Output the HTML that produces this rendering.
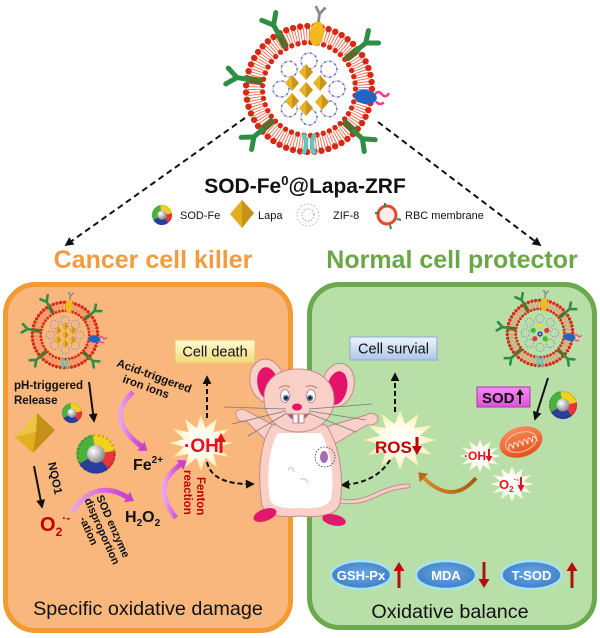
<!DOCTYPE html>
<html><head><meta charset="utf-8">
<style>
html,body{margin:0;padding:0;background:#fff;}
svg{display:block;}
text{font-family:"Liberation Sans",Arial,sans-serif;}
</style></head><body>
<svg width="600" height="638" viewBox="0 0 600 638" xmlns="http://www.w3.org/2000/svg">
<defs>
 <marker id="ah" viewBox="0 0 10 10" refX="8" refY="5" markerWidth="9" markerHeight="9" markerUnits="userSpaceOnUse" orient="auto"><path d="M0,0 L10,5 L0,10 z" fill="#111"/></marker>
 <radialGradient id="starG" cx="50%" cy="50%" r="50%"><stop offset="0" stop-color="#fff"/><stop offset="0.55" stop-color="#FFFBE6"/><stop offset="1" stop-color="#FBEA9E"/></radialGradient>
 <radialGradient id="starW" cx="50%" cy="50%" r="50%"><stop offset="0" stop-color="#fff"/><stop offset="0.6" stop-color="#FFFDF2"/><stop offset="1" stop-color="#EEF0D4"/></radialGradient>
 <linearGradient id="deathG" x1="0" y1="0" x2="0" y2="1"><stop offset="0" stop-color="#FFFBD2"/><stop offset="1" stop-color="#F1DA7C"/></linearGradient>
 <linearGradient id="survG" x1="0" y1="0" x2="0" y2="1"><stop offset="0" stop-color="#EEF4FC"/><stop offset="1" stop-color="#AFC6E8"/></linearGradient>
 <linearGradient id="sodG" x1="0" y1="0" x2="0" y2="1"><stop offset="0" stop-color="#F48AF2"/><stop offset="1" stop-color="#DC52DA"/></linearGradient>
 <linearGradient id="magG" x1="0" y1="0" x2="1" y2="0"><stop offset="0" stop-color="#E9A6EC"/><stop offset="1" stop-color="#CC3ECC"/></linearGradient>
 <linearGradient id="brG" x1="1" y1="0" x2="0" y2="0"><stop offset="0" stop-color="#A85A14"/><stop offset="1" stop-color="#D98A2A"/></linearGradient>
 <radialGradient id="badgeG" cx="50%" cy="45%" r="55%"><stop offset="0" stop-color="#6BA8E4"/><stop offset="1" stop-color="#3F7EC4"/></radialGradient>
 <radialGradient id="greyG" cx="35%" cy="35%" r="65%"><stop offset="0" stop-color="#fff"/><stop offset="1" stop-color="#8E8E8E"/></radialGradient>
 <linearGradient id="mitoG" x1="0" y1="0" x2="0" y2="1"><stop offset="0" stop-color="#FA8A58"/><stop offset="1" stop-color="#E2511F"/></linearGradient>

 <polygon id="star" points="100,0 53,14 87,50 39,39 50,87 14,53 0,100 -14,53 -50,87 -39,39 -87,50 -53,14 -100,0 -53,-14 -87,-50 -39,-39 -50,-87 -14,-53 0,-100 14,-53 50,-87 39,-39 87,-50 53,-14"/>

 <g id="sod">
  <path d="M0,0 L-1.74,-9.85 A10,10 0 0 1 9.85,-1.74 Z" fill="#F2D21C"/>
  <path d="M0,0 L9.85,-1.74 A10,10 0 0 1 6.43,7.66 Z" fill="#E8343A"/>
  <path d="M0,0 L6.43,7.66 A10,10 0 0 1 -8.66,5 Z" fill="#2A3E9E"/>
  <path d="M0,0 L-8.66,5 A10,10 0 0 1 -1.74,-9.85 Z" fill="#4CB23E"/>
  <circle r="9.6" fill="none" stroke="#000" stroke-opacity="0.18" stroke-width="1.4" stroke-dasharray="1 1.3"/>
  <circle r="4.6" fill="url(#greyG)"/>
 </g>

 <g id="dia"><polygon points="0,-8 7,0 0,8 -7,0" fill="#E6B424"/><polygon points="0,-8 7,0 0,8" fill="#C9961A"/></g>

 <g id="zifc">
  <circle cx="28" cy="0" r="8"/><circle cx="19.8" cy="19.8" r="8"/><circle cx="0" cy="28" r="8"/><circle cx="-19.8" cy="19.8" r="8"/>
  <circle cx="-28" cy="0" r="8"/><circle cx="-19.8" cy="-19.8" r="8"/><circle cx="0" cy="-28" r="8"/><circle cx="19.8" cy="-19.8" r="8"/>
 </g>

 <g id="ab"><rect x="47" y="-3.5" width="17" height="7" rx="2.5" fill="#5C6A2A"/><path d="M62,0 L73,0 M73,0 L83,-8 M73,0 L83,8" fill="none" stroke="#2E8F44" stroke-width="5" stroke-linecap="round" stroke-linejoin="round"/></g>

 <g id="ring">
  <circle r="54.5" fill="none" stroke="#F06A4E" stroke-width="13" stroke-dasharray="0.9 1.8"/>
  <circle r="63" fill="none" stroke="#D62A16" stroke-width="6.4" stroke-linecap="round" stroke-dasharray="0 7.197"/>
  <circle r="46.5" fill="none" stroke="#D62A16" stroke-width="5.4" stroke-linecap="round" stroke-dasharray="0 6.49"/>
  <use href="#zifc" fill="none" stroke="#D6A2C6" stroke-width="0.9"/>
  <use href="#zifc" fill="none" stroke="#3B78C6" stroke-width="1.9" stroke-linecap="round" stroke-dasharray="0 5.6"/>
  <use href="#ab" transform="rotate(-119)"/>
  <use href="#ab" transform="rotate(-171)"/>
  <use href="#ab" transform="rotate(139)"/>
  <use href="#ab" transform="rotate(-39)"/>
  <use href="#ab" transform="rotate(43)"/>
  <g transform="rotate(-82)"><ellipse cx="56" cy="0" rx="12.5" ry="7" fill="#F2BA1E"/><path d="M68,0 L76,0 M76,0 L83,-5 M76,0 L83,5" stroke="#8A8A8A" stroke-width="2.8" fill="none"/></g>
  <g transform="rotate(8)"><ellipse cx="57" cy="0" rx="11.5" ry="7" fill="#2264C4"/><path d="M66,-4 q3,-5 7,-1 q4,4 7,-2 M68,3 q4,4 8,0" stroke="#F03A96" stroke-width="2.5" fill="none"/></g>
  <g transform="rotate(90)"><path d="M45,-6 Q54,0 65,-6 M45,6 Q54,0 65,6" stroke="#5CC8C0" stroke-width="4.2" fill="none"/></g>
 </g>
</defs>

<!-- top dashed lines -->
<path d="M245,118 L66,245" stroke="#111" stroke-width="2" stroke-dasharray="6 4" fill="none" marker-end="url(#ah)"/>
<path d="M378,122 L540,245" stroke="#111" stroke-width="2" stroke-dasharray="6 4" fill="none" marker-end="url(#ah)"/>

<!-- top nanoparticle -->
<g transform="translate(309,89)">
 <use href="#ring"/>
 <use href="#dia" x="-3" y="-17"/><use href="#dia" x="-17" y="-6"/><use href="#dia" x="11" y="-6"/>
 <use href="#dia" x="-3" y="1"/><use href="#dia" x="-17" y="12"/><use href="#dia" x="13" y="13"/><use href="#dia" x="-3" y="19"/>
</g>

<text x="305" y="193" font-size="21" font-weight="bold" text-anchor="middle" fill="#111">SOD-Fe<tspan font-size="13" dy="-8">0</tspan><tspan dy="8">@Lapa-ZRF</tspan></text>

<!-- legend -->
<use href="#sod" transform="translate(162,215)"/>
<text x="180" y="219" font-size="11" fill="#111">SOD-Fe</text>
<polygon points="242,200 254,213 242,228 230,214" fill="#E2AE1E"/><polygon points="242,200 254,213 242,228" fill="#C6921A"/>
<text x="258" y="219" font-size="11" fill="#111">Lapa</text>
<g transform="translate(308,215)"><circle r="11" fill="none" stroke="#D8A8CC" stroke-width="0.8" stroke-dasharray="2 1.6"/><circle r="6" fill="none" stroke="#8FA8D8" stroke-width="1.4" stroke-dasharray="0 3" stroke-linecap="round"/></g>
<text x="333" y="219" font-size="11" fill="#111">ZIF-8</text>
<g transform="translate(387,215)"><circle r="9" fill="#FDEDE6" stroke="#E04A30" stroke-width="3"/><path d="M-12,-2 l4,0 M10,4 l4,1 M-2,-12 l0,4 M3,10 l1,4" stroke="#2E8F44" stroke-width="2"/></g>
<text x="405" y="219" font-size="11" fill="#111">RBC membrane</text>

<!-- section titles -->
<text x="153" y="268" font-size="25" font-weight="bold" fill="#F39B3D" text-anchor="middle">Cancer cell killer</text>
<text x="452" y="268" font-size="25" font-weight="bold" fill="#6BA746" text-anchor="middle">Normal cell protector</text>

<!-- panels -->
<rect x="5.5" y="284.5" width="285" height="346" rx="30" fill="#F9B77E" stroke="#F49A33" stroke-width="5"/>
<rect x="309.5" y="284.5" width="285" height="343" rx="30" fill="#B9DFA9" stroke="#6CA94E" stroke-width="5"/>

<!-- LEFT PANEL -->
<g transform="translate(65,335) scale(0.52)">
 <use href="#ring"/>
 <use href="#dia" x="0" y="-17"/><use href="#dia" x="-14" y="-9"/><use href="#dia" x="14" y="-9"/>
 <use href="#dia" x="0" y="0"/><use href="#dia" x="-14" y="9"/><use href="#dia" x="14" y="9"/><use href="#dia" x="0" y="17"/>
</g>
<text x="14" y="389" font-size="11.5" font-weight="bold" fill="#111">pH-triggered</text>
<text x="14" y="404" font-size="11.5" font-weight="bold" fill="#111">Release</text>
<path d="M89,382 L94,421" stroke="#111" stroke-width="2" fill="none" marker-end="url(#ah)"/>
<use href="#sod" transform="translate(72,413)"/>
<polygon points="37,413 55,430 33,453 15,437" fill="#E2AE22"/>
<polygon points="37,413 55,430 33,453 36,432" fill="#C59018"/>
<polygon points="37,413 36,432 15,437" fill="#EEC444"/>
<use href="#sod" transform="translate(96,454) scale(1.95)"/>

<path d="M34,466 L42,507" stroke="#111" stroke-width="2" fill="none" marker-end="url(#ah)"/>
<text transform="translate(48,463) rotate(78)" font-size="11.5" font-weight="bold" fill="#111">NQO1</text>
<text x="40" y="531" font-size="20" font-weight="bold" fill="#C00000">O<tspan font-size="12" dy="5">2</tspan><tspan font-size="12" dy="-14">·-</tspan></text>

<!-- magenta arrows -->
<path d="M72,512 Q95,478 127,497" stroke="url(#magG)" stroke-width="5" fill="none"/>
<polygon points="134,501 123.9,502.2 130.1,491.8" fill="#CC3ECC"/>
<path d="M133,392 Q104,418 141,446" stroke="url(#magG)" stroke-width="5" fill="none"/>
<polygon points="147.4,450.8 137.4,450.8 144.6,441.2" fill="#CC3ECC"/>
<path d="M176,518 Q150,486 180,465" stroke="url(#magG)" stroke-width="5" fill="none"/>
<polygon points="186.6,460.4 183.4,469.9 176.6,460.1" fill="#CC3ECC"/>

<text transform="translate(96,497) rotate(66)" font-size="11" font-weight="bold" fill="#111">SOD enzyme<tspan x="-2" y="12">disproportion</tspan><tspan x="13" y="24">-ation</tspan></text>
<text transform="translate(116,366) rotate(20)" font-size="11.5" font-weight="bold" fill="#111">Acid-triggered<tspan x="11" y="13">iron ions</tspan></text>
<text x="133" y="470" font-size="16" font-weight="bold" fill="#111">Fe<tspan font-size="10" dy="-7">2+</tspan></text>
<text x="125" y="522" font-size="16" font-weight="bold" fill="#111">H<tspan font-size="10" dy="4">2</tspan><tspan dy="-4">O</tspan><tspan font-size="10" dy="4">2</tspan></text>
<text transform="translate(197,477) rotate(90)" font-size="11.5" font-weight="bold" fill="#C00000">Fenton<tspan x="-7" y="13">reaction</tspan></text>

<!-- cell death -->
<rect x="175" y="340" width="80" height="23" fill="url(#deathG)" stroke="#E2C868" stroke-width="1"/>
<text x="215" y="356.5" font-size="14.5" text-anchor="middle" fill="#111">Cell death</text>
<path d="M207,418 L207,377" stroke="#111" stroke-width="2" stroke-dasharray="5 3" fill="none" marker-end="url(#ah)"/>

<!-- OH star -->
<use href="#star" transform="translate(201,443) scale(0.32,0.28)" fill="url(#starG)"/>
<text x="184" y="452" font-size="19" font-weight="bold" fill="#E8101A">·OH</text>
<rect x="219.5" y="440" width="3" height="13" fill="#E8101A"/><polygon points="216,442 226,442 221,433" fill="#E8101A"/>
<path d="M207,462 Q212,485 253,484" stroke="#111" stroke-width="2" stroke-dasharray="5 3" fill="none" marker-end="url(#ah)"/>

<!-- RIGHT PANEL -->
<g transform="translate(540,333) scale(0.52)">
 <use href="#ring"/>
 <circle cx="0" cy="-14" r="5" fill="#F2D21C"/><circle cx="-13" cy="-5" r="5" fill="#4CB23E"/><circle cx="13" cy="-5" r="5" fill="#E8343A"/>
 <circle cx="0" cy="2" r="5" fill="#2A3E9E"/><circle cx="-10" cy="11" r="5" fill="#E8343A"/><circle cx="10" cy="11" r="5" fill="#4CB23E"/>
 <circle cx="0" cy="-14" r="2" fill="#ddd"/><circle cx="0" cy="2" r="2" fill="#ddd"/>
</g>
<rect x="350" y="337" width="87" height="23" fill="url(#survG)" stroke="#8EA9D4" stroke-width="1"/>
<text x="393.5" y="353.5" font-size="14.5" text-anchor="middle" fill="#111">Cell survial</text>
<path d="M395,412 L395,374" stroke="#111" stroke-width="2" stroke-dasharray="5 3" fill="none" marker-end="url(#ah)"/>

<rect x="477" y="387" width="53" height="20" fill="url(#sodG)" stroke="#A83AA8" stroke-width="1"/>
<text x="482" y="403" font-size="15" font-weight="bold" fill="#111">SOD</text>
<rect x="519" y="393" width="2" height="11" fill="#111"/><polygon points="516,395 524,395 520,389" fill="#111"/>
<path d="M548,378 L535,419" stroke="#111" stroke-width="2" fill="none" marker-end="url(#ah)"/>
<use href="#sod" transform="translate(563,405) scale(1.4)"/>

<!-- mitochondrion -->
<g transform="rotate(-18 521 442)">
 <ellipse cx="521" cy="442" rx="22" ry="15" fill="url(#mitoG)"/>
 <ellipse cx="521" cy="442" rx="16" ry="9.5" fill="none" stroke="#FDB996" stroke-width="1.2"/>
 <path d="M507,446 q2.5,-11 5,0 q2.5,-11 5,0 q2.5,-11 5,0 q2.5,-11 5,0 q2.5,-11 5,0 q2.5,-11 5,0" fill="none" stroke="#FDE2D2" stroke-width="1.1"/>
</g>

<use href="#star" transform="translate(480,456) scale(0.21,0.17)" fill="url(#starW)"/>
<text x="464" y="460" font-size="12" font-weight="bold" fill="#E8101A">·OH</text>
<rect x="488" y="449" width="2" height="8" fill="#E8101A"/><polygon points="485.5,456 492.5,456 489,462" fill="#E8101A"/>
<use href="#star" transform="translate(512,484) scale(0.22,0.18)" fill="url(#starW)"/>
<text x="499" y="489" font-size="13" font-weight="bold" fill="#E8101A">O<tspan font-size="8" dy="3">2</tspan><tspan font-size="8" dy="-10">·-</tspan></text>
<rect x="520" y="477" width="2" height="9" fill="#E8101A"/><polygon points="517.5,485 524.5,485 521,492" fill="#E8101A"/>

<path d="M476,478 Q452,506 424,478" stroke="url(#brG)" stroke-width="4" fill="none"/>
<polygon points="418.3,472.3 428.2,473.8 419.8,482.2" fill="#B8681C"/>

<use href="#star" transform="translate(400,440) scale(0.37,0.30)" fill="url(#starG)"/>
<text x="375" y="453" font-size="17" font-weight="bold" fill="#C00000">ROS</text>
<rect x="415.5" y="437" width="3" height="11" fill="#C00000"/><polygon points="412,446 422,446 417,455" fill="#C00000"/>
<path d="M390,460 Q376,483 342,485" stroke="#111" stroke-width="2" stroke-dasharray="5 3" fill="none" marker-end="url(#ah)"/>

<!-- badges -->
<ellipse cx="361" cy="575" rx="30" ry="14" fill="url(#badgeG)" stroke="#A6E2F6" stroke-width="2.5"/>
<text x="361" y="580" font-size="13" font-weight="bold" fill="#fff" text-anchor="middle">GSH-Px</text>
<rect x="397.5" y="569" width="3" height="19" fill="#B01010"/><polygon points="393.5,571 404.5,571 399,562" fill="#B01010"/>
<ellipse cx="446" cy="575" rx="30" ry="14" fill="url(#badgeG)" stroke="#A6E2F6" stroke-width="2.5"/>
<text x="446" y="580" font-size="13" font-weight="bold" fill="#fff" text-anchor="middle">MDA</text>
<rect x="482.5" y="562" width="3" height="19" fill="#B01010"/><polygon points="478.5,579 489.5,579 484,588" fill="#B01010"/>
<ellipse cx="531.5" cy="575" rx="30" ry="14" fill="url(#badgeG)" stroke="#A6E2F6" stroke-width="2.5"/>
<text x="531.5" y="580" font-size="13" font-weight="bold" fill="#fff" text-anchor="middle">T-SOD</text>
<rect x="570.5" y="569" width="3" height="19" fill="#B01010"/><polygon points="566.5,571 577.5,571 572,562" fill="#B01010"/>

<text x="148" y="615" font-size="19.8" text-anchor="middle" fill="#111">Specific oxidative damage</text>
<text x="450" y="618" font-size="19.8" text-anchor="middle" fill="#111">Oxidative balance</text>

<!-- MOUSE -->
<g stroke="#C58A8C" stroke-width="1">
 <path d="M332,498 C350,506 366,500 380,493 C392,488 400,486 408,486" fill="none" stroke="#C58A8C" stroke-width="5" stroke-linecap="round"/>
 <path d="M332,498 C350,506 366,500 380,493 C392,488 400,486 408,486" fill="none" stroke="#F7CEC6" stroke-width="3" stroke-linecap="round"/>
 <ellipse cx="267" cy="381" rx="17" ry="22" transform="rotate(-12 267 381)" fill="#F8D0C8"/>
 <ellipse cx="268" cy="384" rx="10.5" ry="17" transform="rotate(-12 268 384)" fill="#E5126B" stroke="none"/>
 <ellipse cx="338" cy="385" rx="16" ry="22" transform="rotate(12 338 385)" fill="#F8D0C8"/>
 <ellipse cx="337" cy="388" rx="10" ry="17" transform="rotate(12 337 388)" fill="#E5126B" stroke="none"/>
 <path d="M282,430 L247,411 C240,407 233,411 237,418 C239,422 244,422 246,421 L273,447 Z" fill="#F8D0C8"/>
 <path d="M316,430 L366,415 C372,411 381,415 377,422 C374,426 369,425 367,425 L326,449 Z" fill="#F8D0C8"/>
 <path d="M272,425 C258,445 258,480 262,505 C264,515 280,518 300,516 C320,518 338,515 340,503 C344,478 340,445 326,425 Z" fill="#F8D0C8"/>
 <path d="M278,433 C267,451 267,482 270,499 C272,507 285,509 300,508 C315,509 329,507 331,498 C335,478 331,451 321,433 Z" fill="#fff" stroke="none"/>
 <path d="M288,470 q4,-6 6,2 M300,480 q5,-4 8,3" fill="none" stroke="#E8B8B4"/>
 <ellipse cx="265" cy="515" rx="12" ry="6" transform="rotate(-20 265 515)" fill="#E0196E" stroke="none"/>
 <ellipse cx="334" cy="520" rx="12" ry="5.5" transform="rotate(12 334 520)" fill="#E0196E" stroke="none"/>
 <path d="M264,398 C264,378 280,369 298,369 C318,369 334,380 334,400 C334,418 318,432 298,432 C279,432 264,418 264,398 Z" fill="#F8D0C8"/>
 <ellipse cx="285" cy="396" rx="4.5" ry="6.5" fill="#fff"/>
 <ellipse cx="311" cy="396" rx="4.5" ry="6.5" fill="#fff"/>
 <circle cx="286" cy="398" r="3" fill="#3E6EA6" stroke="none"/><circle cx="286" cy="398" r="1.3" fill="#111" stroke="none"/>
 <circle cx="310" cy="398" r="3" fill="#3E6EA6" stroke="none"/><circle cx="310" cy="398" r="1.3" fill="#111" stroke="none"/>
 <path d="M279,388 q6,-4 11,-1 M306,387 q5,-3 11,1" fill="none" stroke="#B07070"/>
 <ellipse cx="297" cy="407" rx="5" ry="3.5" fill="#E5126B" stroke="none"/>
 <path d="M287,414 Q298,428 309,414 Z" fill="#9B4FA0"/>
 <rect x="293" y="414" width="5" height="9" fill="#fff"/><rect x="299" y="414" width="5" height="9" fill="#fff"/>
 <g stroke="#777" stroke-width="0.8" fill="none">
  <path d="M286,409 L224,407"/><path d="M286,411 L232,424"/><path d="M287,413 L248,436"/>
  <path d="M309,409 L372,404"/><path d="M309,411 L366,420"/><path d="M308,413 L356,432"/>
 </g>
 <circle cx="325" cy="457" r="10" fill="none" stroke="#333" stroke-width="0.8" stroke-dasharray="1.5 1.5"/>
 <ellipse cx="324" cy="457" rx="4" ry="6" fill="#A86AB0" stroke="none"/>
</g>
</svg>
</body></html>
